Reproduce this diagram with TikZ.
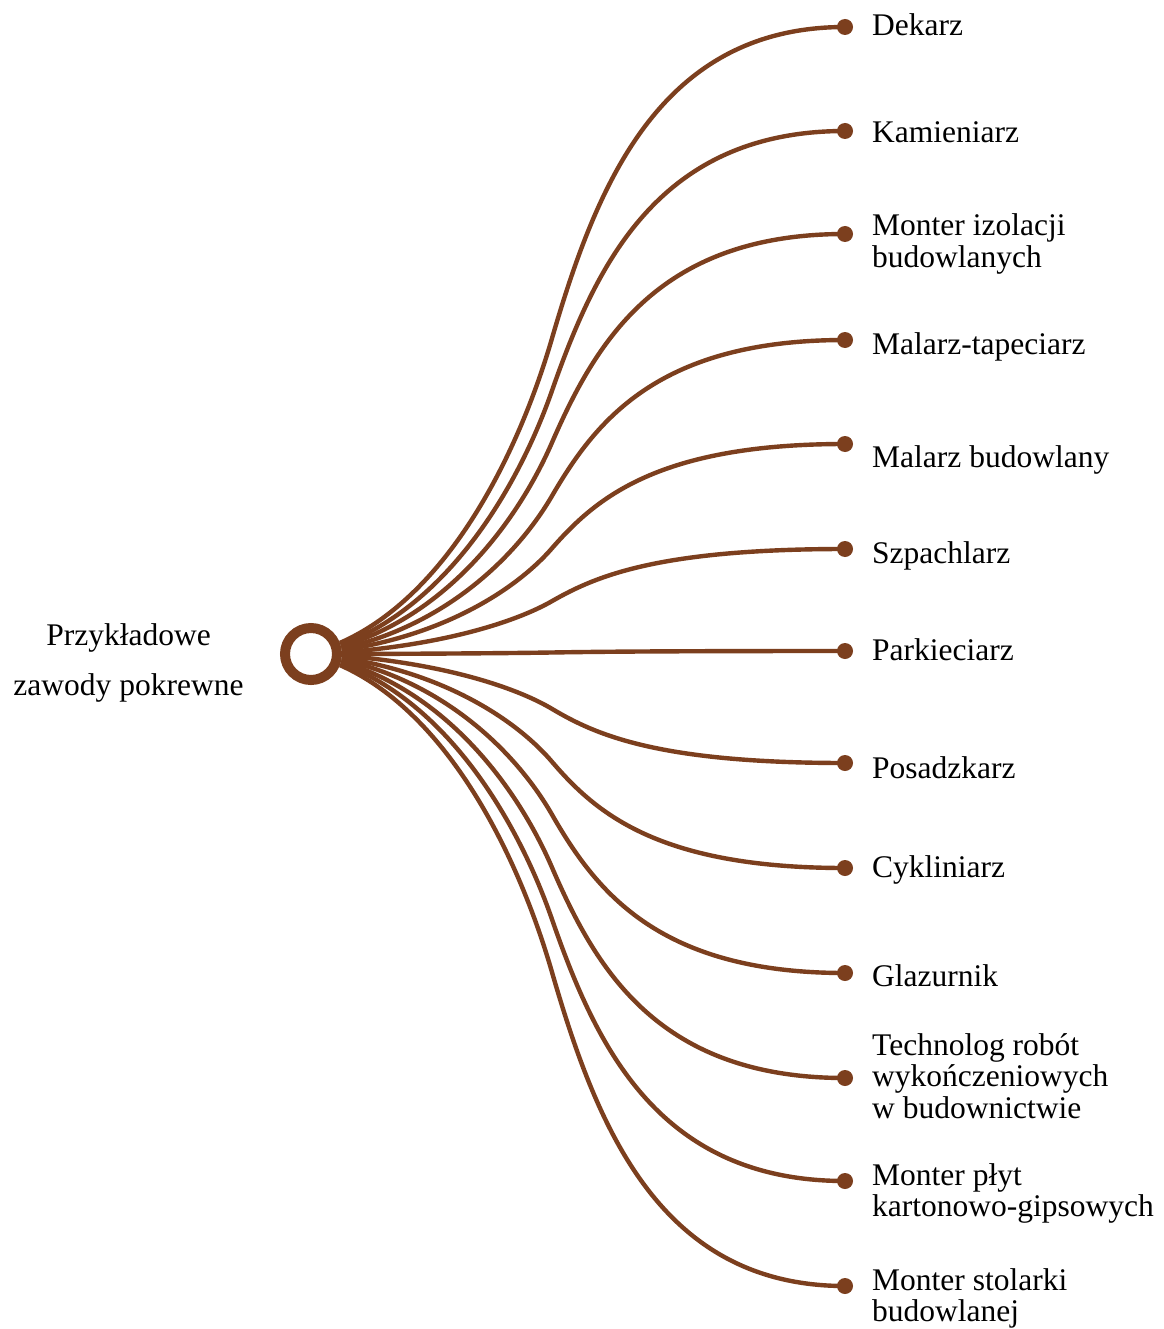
\documentclass[tikz,border=0pt]{standalone}
\usepackage{fontspec}
\setmainfont{Liberation Serif}
\definecolor{br}{RGB}{124,63,30}
\newcommand\labfont{\fontsize{31.5}{31.5}\selectfont}
\newcommand\leftfont{\fontsize{31.5}{50}\selectfont}
\begin{document}
\begin{tikzpicture}[x=1pt,y=-1pt,
  link/.style={draw=br,line width=4.4pt},
  dot/.style={circle,fill=br,inner sep=0pt,minimum size=16pt},
  lab/.style={anchor=base west,inner sep=0pt,font=\labfont},
  rootnode/.style={circle,draw=br,line width=10pt,fill=white,inner sep=0pt,minimum size=52pt,outer sep=5pt}]
\useasboundingbox[fill=white] (0,0) rectangle (1163,1329);
\node[rootnode] (root) at (311,654) {};
\node[anchor=base,inner sep=0pt,font=\leftfont] (title) at (128.5,645)
  {\begin{tabular}[t]{@{}c@{}}Przykładowe\\zawody pokrewne\end{tabular}};
\foreach \yy/\n in {27/1,131/2,234/3,340/4,444/5,549/6,651/7,763/8,868/9,973/10,1078/11,1181/12,1286/13}{
  \node[dot] (d\n) at (845,\yy) {};
  \pgfmathsetmacro\yz{654+(\yy-654)*0.018}
  \pgfmathsetmacro\D{\yz-\yy}
  \pgfmathsetmacro\th{asin((654-\yz)/31)}
  \draw[link] (root.\th) .. controls (450,{\yz-0.078*\D}) and (520,{\yz-0.313*\D}) .. (553,{\yz-0.5*\D})
     .. controls (597,{\yy+0.257*\D}) and (660,\yy) .. (d\n.center);
}
\node[lab] (l1) at (872,36) {Dekarz};
\node[lab] (l2) at (872,143) {Kamieniarz};
\node[lab] (l3) at (872,236) {\begin{tabular}[t]{@{}l@{}}Monter izolacji\\budowlanych\end{tabular}};
\node[lab] (l4) at (872,354) {Malarz-tapeciarz};
\node[lab] (l5) at (872,467) {Malarz budowlany};
\node[lab] (l6) at (872,563) {Szpachlarz};
\node[lab] (l7) at (872,660) {Parkieciarz};
\node[lab] (l8) at (872,778) {Posadzkarz};
\node[lab] (l9) at (872,877) {Cykliniarz};
\node[lab] (l10) at (872,986) {Glazurnik};
\node[lab] (l11) at (872,1055) {\begin{tabular}[t]{@{}l@{}}Technolog robót\\wykończeniowych\\w budownictwie\end{tabular}};
\node[lab] (l12) at (872,1185) {\begin{tabular}[t]{@{}l@{}}Monter płyt\\kartonowo-gipsowych\end{tabular}};
\node[lab] (l13) at (872,1290) {\begin{tabular}[t]{@{}l@{}}Monter stolarki\\budowlanej\end{tabular}};
\end{tikzpicture}
\end{document}
